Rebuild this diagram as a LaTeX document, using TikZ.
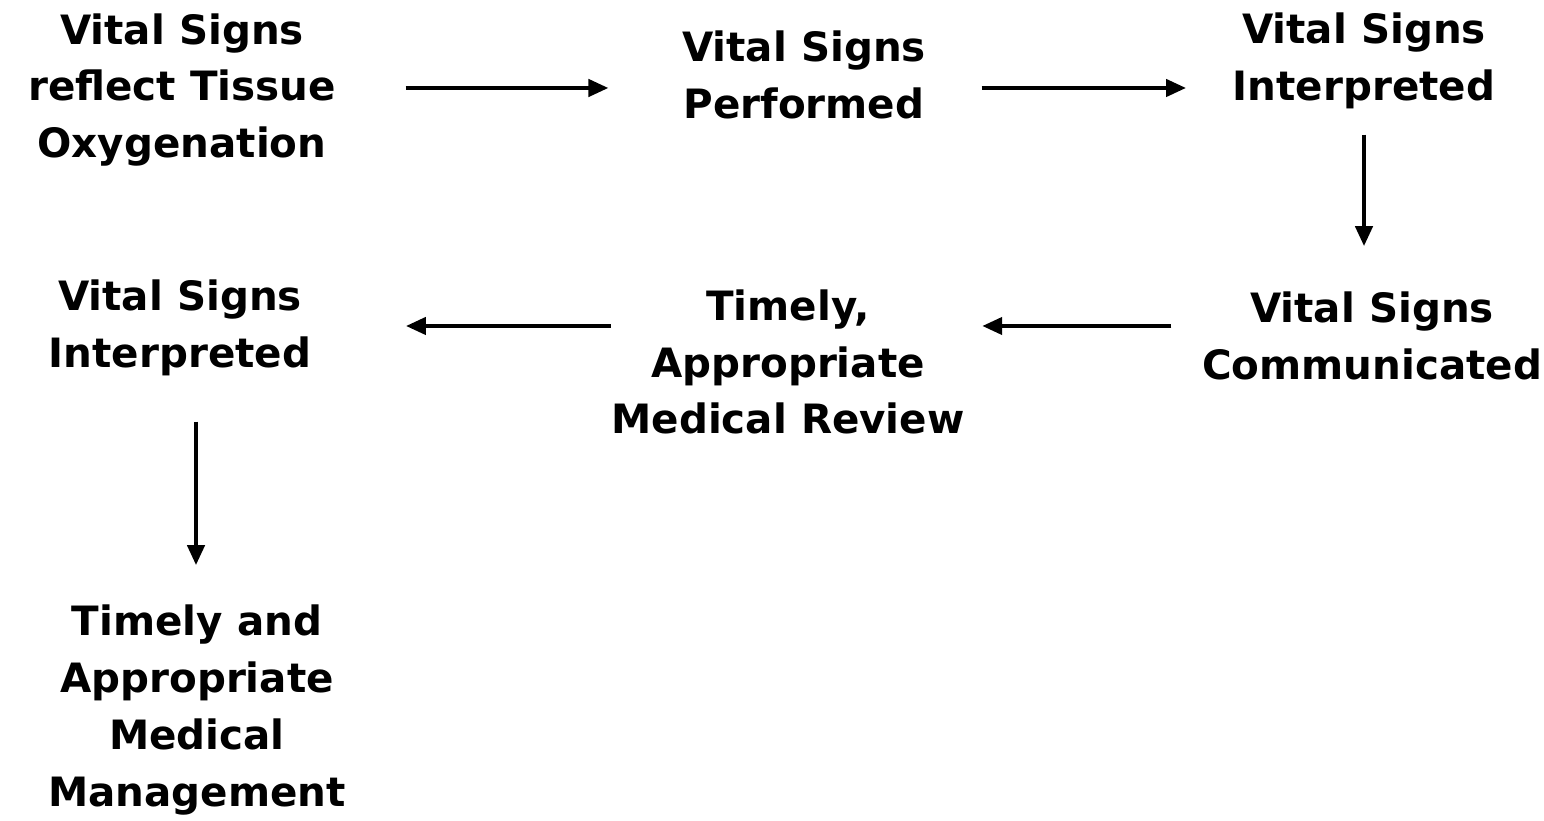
\documentclass[tikz,border=0pt]{standalone}
\usepackage{fontspec}
\setmainfont{DejaVu Sans}
\usetikzlibrary{arrows.meta,calc,positioning}
\tikzset{
  stage/.style={align=center,inner sep=0pt,font=\fontsize{11.5}{16.2}\selectfont\bfseries},
  flow/.style={black,line width=1.2pt,-{Triangle[length=2mm,width=1.7mm]}}
}
\begin{document}
\begin{tikzpicture}
\useasboundingbox (0,0) rectangle (15.44,-8.21);
% top row
\node[stage] (reflect) at (1.82,-0.90) {Vital Signs\\reflect Tissue\\Oxygenation};
\node[stage] (perform) at (8.04,-0.75) {Vital Signs\\Performed};
\node[stage] (interpA) at (13.64,-0.61) {Vital Signs\\Interpreted};
% middle row
\node[stage] (commun) at (13.72,-3.36) {Vital Signs\\Communicated};
\node[stage] (review) at (7.88,-3.62) {Timely,\\Appropriate\\Medical Review};
\node[stage] (interpB) at (1.80,-3.28) {Vital Signs\\Interpreted};
% bottom
\node[stage] (manage) at (1.97,-7.10) {Timely and\\Appropriate\\Medical\\Management};
% connectors
\draw[flow,shorten <=0.69cm,shorten >=0.73cm] ([yshift=0.02cm]reflect.east) -- ([yshift=0.02cm]reflect.east -| perform.west);
\draw[flow,shorten <=0.55cm,shorten >=0.46cm] ([yshift=-0.13cm]perform.east) -- ([yshift=-0.13cm]perform.east -| interpA.west);
\draw[flow,shorten <=0.25cm,shorten >=0.45cm] (interpA.south) -- (interpA.south |- commun.north);
\draw[flow,shorten <=0.30cm,shorten >=0.17cm] ([yshift=0.10cm]commun.west) -- ([yshift=0.10cm]commun.west -| review.east);
\draw[flow,shorten <=0cm,shorten >=0.94cm] ([yshift=0.36cm]review.west) -- ([yshift=0.36cm]review.west -| interpB.east);
\draw[flow,shorten <=0.45cm,shorten >=0.39cm] ([xshift=0.16cm]interpB.south) -- ([xshift=0.16cm]interpB.south |- manage.north);
\end{tikzpicture}
\end{document}
